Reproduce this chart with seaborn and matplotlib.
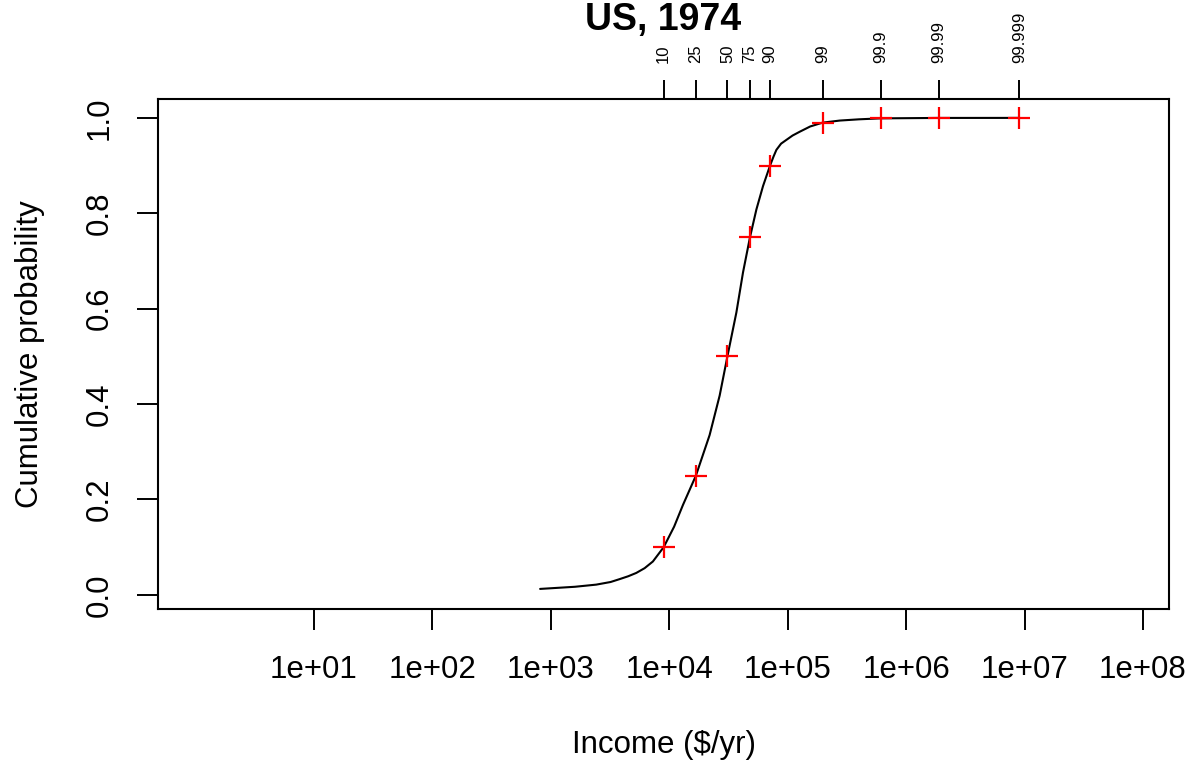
import numpy as np
import pandas as pd
import matplotlib
matplotlib.use("Agg")
import matplotlib.pyplot as plt
import seaborn as sns
from matplotlib.ticker import NullLocator

# ---- data ----
percentile_labels = ["10", "25", "50", "75", "90", "99", "99.9", "99.99", "99.999"]
percentile_income = [8980, 16800, 31000, 48100, 71000, 197000, 608000, 1880000, 9030000]
percentile_prob = [0.10, 0.25, 0.50, 0.75, 0.90, 0.99, 0.999, 0.9999, 0.99999]

curve_income = [813, 1600, 2420, 3200, 3810, 4500, 5270, 6200, 7280, 8980, 11000,
                13060, 16800, 21930, 26670, 31000, 36900, 41980, 48100, 54450,
                61940, 71000, 76000, 80350, 88000, 97720, 110000, 126500, 155000,
                197000, 275400, 400000, 608000, 1880000, 9030000]
curve_prob = [0.0125, 0.017, 0.0215, 0.027, 0.033, 0.039, 0.046, 0.056, 0.070,
              0.10, 0.143, 0.1885, 0.25, 0.335, 0.418, 0.50, 0.592, 0.676, 0.75,
              0.808, 0.857, 0.90, 0.919, 0.933, 0.946, 0.954, 0.963, 0.971, 0.982,
              0.99, 0.9944, 0.997, 0.999, 0.9999, 0.99999]

x_ticks = [1e1, 1e2, 1e3, 1e4, 1e5, 1e6, 1e7, 1e8]
x_tick_labels = ["1e+01", "1e+02", "1e+03", "1e+04", "1e+05", "1e+06", "1e+07", "1e+08"]
y_ticks = [0.0, 0.2, 0.4, 0.6, 0.8, 1.0]
y_tick_labels = ["0.0", "0.2", "0.4", "0.6", "0.8", "1.0"]

curve_df = pd.DataFrame({"income": curve_income, "prob": curve_prob})
pts_df = pd.DataFrame({"income": percentile_income, "prob": percentile_prob})

sns.set_style("white")
plt.rcParams["font.family"] = ["Liberation Sans", "DejaVu Sans"]
plt.rcParams["text.color"] = "black"
plt.rcParams["axes.labelcolor"] = "black"
plt.rcParams["xtick.color"] = "black"
plt.rcParams["ytick.color"] = "black"

W, H = 1194, 765
fig = plt.figure(figsize=(W / 100, H / 100), dpi=100)
ax = fig.add_axes([158 / W, 1 - 609 / H, (1169 - 158) / W, (609 - 99) / H])

sns.lineplot(data=curve_df, x="income", y="prob", ax=ax, color="black",
             linewidth=1.5, sort=False, estimator=None)
sns.scatterplot(data=pts_df, x="income", y="prob", ax=ax, marker="+",
                color="red", s=260, linewidth=1.6, zorder=3)

ax.set_xscale("log")
ax.set_xlim(10 ** -0.3161, 10 ** 8.2196)
ax.set_ylim(-0.0296, 1.0396)

ax.set_xticks(x_ticks, labels=x_tick_labels)
ax.xaxis.set_minor_locator(NullLocator())
ax.set_yticks(y_ticks, labels=y_tick_labels, rotation=90, va="center")

for sp in ax.spines.values():
    sp.set_visible(True)
    sp.set_color("black")
    sp.set_linewidth(1.5)

ax.tick_params(axis="x", bottom=True, direction="out", length=15, width=1.4,
               color="black", labelcolor="black", labelsize=22.5, pad=18)
ax.tick_params(axis="y", left=True, direction="out", length=15, width=1.4,
               color="black", labelcolor="black", labelsize=22.5, pad=16)

sec = ax.secondary_xaxis("top")
sec.set_xticks(percentile_income, labels=percentile_labels, rotation=90)
sec.xaxis.set_minor_locator(NullLocator())
sec.tick_params(axis="x", direction="out", length=14, width=1.4, color="black",
                labelcolor="black", labelsize=12, pad=12)
sec.spines["top"].set_visible(False)

ax.set_xlabel("Income ($/yr)", fontsize=22.5, color="black")
ax.xaxis.label.set_va("center")
ax.xaxis.set_label_coords(0.5, (609 - 745) / 510)
ax.set_ylabel("Cumulative probability", fontsize=22.5, color="black")
ax.yaxis.label.set_va("center")
ax.yaxis.set_label_coords((30 - 158) / 1011, 0.5)

fig.text((158 + 1169) / 2 / W, 1 - 20 / H, "US, 1974", fontsize=27,
         fontweight="bold", ha="center", va="center", color="black")

fig.savefig("out.png", dpi=100, facecolor="white")
